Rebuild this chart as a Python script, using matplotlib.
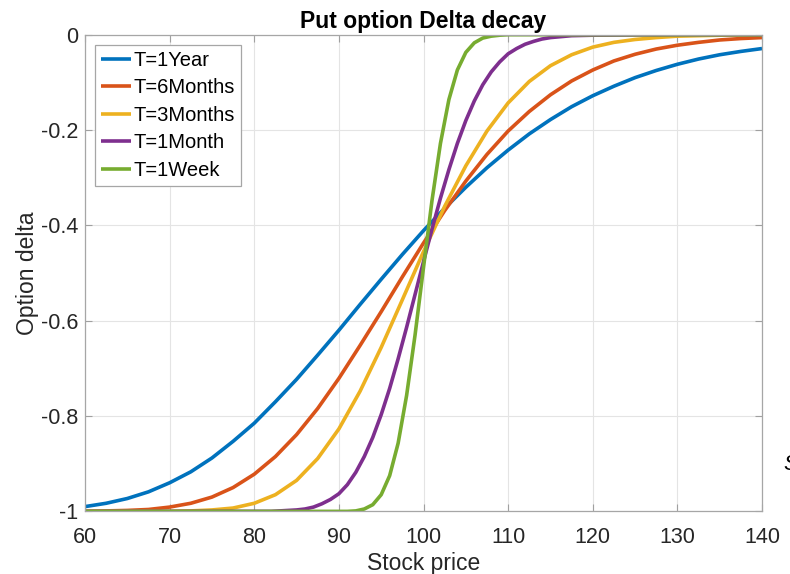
import matplotlib
matplotlib.use("Agg")
import matplotlib.pyplot as plt
from matplotlib.ticker import FuncFormatter

plt.rcParams["font.family"] = ["Liberation Sans", "DejaVu Sans"]
plt.rcParams["axes.unicode_minus"] = False

# Delta values, per maturity
x_grob = [60, 62.5, 65, 67.5, 70, 72.5, 75, 77.5, 80, 82.5, 85, 87.5, 90, 92.5,
          95, 97.5, 100, 102.5, 105, 107.5, 110, 112.5, 115, 117.5, 120, 122.5,
          125, 127.5, 130, 132.5, 135, 137.5, 140]

delta_1j = [-0.990, -0.983, -0.973, -0.959, -0.940, -0.917, -0.888, -0.853, -0.815,
            -0.770, -0.723, -0.672, -0.620, -0.566, -0.513, -0.461, -0.411, -0.364,
            -0.320, -0.279, -0.242, -0.208, -0.178, -0.151, -0.128, -0.108, -0.090,
            -0.075, -0.062, -0.051, -0.042, -0.035, -0.029]

delta_6m = [-1.000, -0.999, -0.998, -0.996, -0.991, -0.983, -0.970, -0.950, -0.922,
            -0.885, -0.839, -0.784, -0.721, -0.652, -0.581, -0.508, -0.437, -0.369,
            -0.307, -0.251, -0.202, -0.161, -0.126, -0.097, -0.074, -0.055, -0.041,
            -0.030, -0.022, -0.016, -0.011, -0.008, -0.006]

delta_3m = [-1.000, -1.000, -1.000, -1.000, -1.000, -0.999, -0.997, -0.993, -0.983,
            -0.965, -0.935, -0.889, -0.827, -0.748, -0.656, -0.556, -0.455, -0.360,
            -0.275, -0.202, -0.143, -0.098, -0.065, -0.042, -0.026, -0.016, -0.010,
            -0.006, -0.003, -0.002, -0.001, 0.000, 0.000]

x_1m = [60, 70, 80, 82, 84, 85, 86, 87, 88, 89, 90, 91, 92, 93, 94, 95, 96, 97, 98,
        99, 100, 101, 102, 103, 104, 105, 106, 107, 108, 109, 110, 111, 112, 113,
        114, 115, 117.5, 120, 130, 140]
delta_1m = [-1.000, -1.000, -1.000, -1.000, -0.998, -0.997, -0.995, -0.991, -0.984,
            -0.975, -0.963, -0.944, -0.918, -0.885, -0.845, -0.797, -0.742, -0.680,
            -0.614, -0.545, -0.476, -0.408, -0.343, -0.283, -0.228, -0.180, -0.139,
            -0.105, -0.078, -0.057, -0.040, -0.029, -0.020, -0.014, -0.009, -0.006,
            -0.002, -0.001, 0.000, 0.000]

x_1w = [60, 80, 90, 91, 92, 93, 94, 95, 96, 97, 98, 99, 100, 101, 102, 103, 104,
        105, 106, 107, 108, 109, 110, 120, 140]
delta_1w = [-1.000, -1.000, -1.000, -1.000, -0.999, -0.995, -0.986, -0.965, -0.925,
            -0.857, -0.757, -0.630, -0.488, -0.348, -0.228, -0.136, -0.074, -0.037,
            -0.017, -0.007, -0.003, -0.001, 0.000, 0.000, 0.000]

labels = ["T=1Year", "T=6Months", "T=3Months", "T=1Month", "T=1Week"]
farben = ["#0072BD", "#D95319", "#EDB120", "#7E2F8E", "#77AC30"]

fig = plt.figure(figsize=(7.9, 5.74), dpi=100)
ax = fig.add_axes([0.1076, 0.1091, 0.857, 0.8304])

serien = [(x_grob, delta_1j), (x_grob, delta_6m), (x_grob, delta_3m),
          (x_1m, delta_1m), (x_1w, delta_1w)]
for (xs, ys), lab, col in zip(serien, labels, farben):
    ax.plot(xs, ys, color=col, lw=2.6, label=lab, solid_capstyle="butt")

ax.set_xlim(60, 140)
ax.set_ylim(-1, 0)
ax.set_xticks(range(60, 141, 10))
ax.set_yticks([-1, -0.8, -0.6, -0.4, -0.2, 0])
ax.yaxis.set_major_formatter(FuncFormatter(lambda v, p: f"{v:g}"))
ax.grid(True, color="#e4e4e4", lw=0.8)
ax.set_axisbelow(True)
ax.tick_params(direction="in", top=True, right=True, length=5, width=0.8,
               color="#a0a0a0", labelsize=15.5, labelcolor="#262626", pad=5)
ax.tick_params(axis="x", pad=11)
for sp in ax.spines.values():
    sp.set_color("#a6a6a6")
    sp.set_linewidth(0.9)

ax.set_title("Put option Delta decay", fontsize=16.5, fontweight="bold", pad=5)
ax.set_xlabel("Stock price", fontsize=16.5, color="#262626", labelpad=3)
ax.set_ylabel("Option delta", fontsize=16.5, color="#262626", labelpad=1)

leg = ax.legend(loc="upper left", fontsize=14.5, handlelength=1.5, handletextpad=0.1,
                borderpad=0.3, labelspacing=0.42, borderaxespad=0.5,
                fancybox=False, framealpha=1)
leg.get_frame().set_edgecolor("#a6a6a6")
leg.get_frame().set_linewidth(0.9)

# abgeschnittenes Zeichen am rechten Rand
fig.text(0.991, 0.19, "S", fontsize=16, style="italic", ha="left", va="center")

fig.savefig("out.png", dpi=100)
